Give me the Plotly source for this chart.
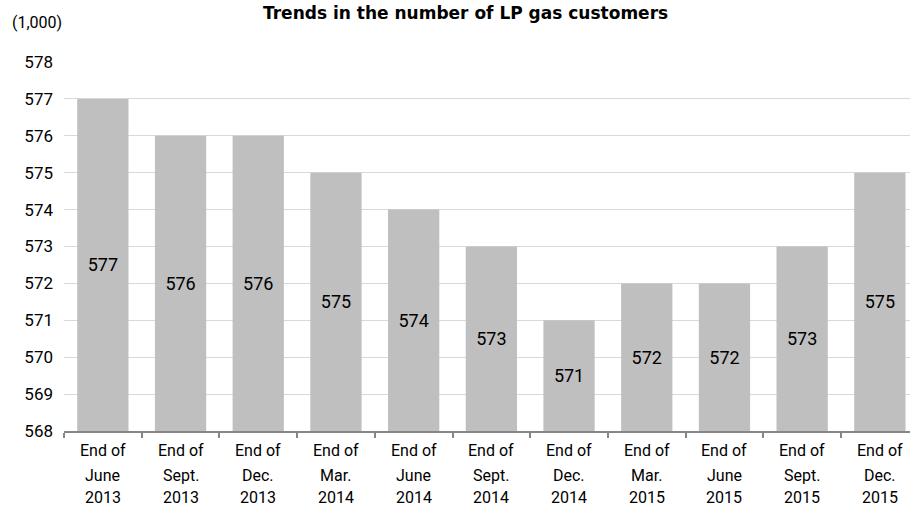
import plotly.graph_objects as go

categories = [
    "End of<br>June<br>2013", "End of<br>Sept.<br>2013", "End of<br>Dec.<br>2013",
    "End of<br>Mar.<br>2014", "End of<br>June<br>2014", "End of<br>Sept.<br>2014",
    "End of<br>Dec.<br>2014", "End of<br>Mar.<br>2015", "End of<br>June<br>2015",
    "End of<br>Sept.<br>2015", "End of<br>Dec.<br>2015",
]
values = [577, 576, 576, 575, 574, 573, 571, 572, 572, 573, 575]
y_ticks = list(range(568, 579))
title_text = "Trends in the number of LP gas customers"
unit_text = "(1,000)"
axis_base = 568

FONT = "Roboto, 'Noto Sans CJK JP', sans-serif"
W, H = 910, 507
L, R, T, B = 64, 0, 62, 76
plot_h = H - T - B
plot_w = W - L - R

xs = list(range(len(categories)))

fig = go.Figure()
fig.add_trace(go.Bar(
    x=xs, y=[v - axis_base for v in values], base=axis_base,
    marker=dict(color="#bfbfbf", line=dict(width=0)),
    text=[str(v) for v in values], textposition="inside",
    insidetextanchor="middle", textangle=0,
    textfont=dict(family=FONT, size=18, color="#000000"),
    width=0.66, hoverinfo="skip",
))

annotations = []
line_y = [450, 475, 497]
for i, cat in enumerate(categories):
    for j, part in enumerate(cat.split("<br>")):
        annotations.append(dict(
            x=i, xref="x", y=(T + plot_h - line_y[j]) / plot_h, yref="paper",
            text=part, showarrow=False, xanchor="center", yanchor="middle",
            font=dict(family=FONT, size=16, color="#000000"),
        ))
annotations.append(dict(
    x=(10 - L) / plot_w, xref="paper", y=(T + plot_h - 22) / plot_h, yref="paper",
    text=unit_text, showarrow=False, xanchor="left", yanchor="middle",
    font=dict(family=FONT, size=16, color="#000000"),
))
annotations.append(dict(
    x=(465 - L) / plot_w, xref="paper", y=(T + plot_h - 1) / plot_h, yref="paper",
    text="<b>" + title_text + "</b>", showarrow=False, xanchor="center", yanchor="top",
    font=dict(family="'DejaVu Sans', sans-serif", size=17, color="#000000"),
))

n = len(categories)
x_end = -0.5 + plot_w / 77.7

fig.update_layout(
    width=W, height=H, autosize=False,
    margin=dict(l=L, r=R, t=T, b=B, pad=0),
    paper_bgcolor="white", plot_bgcolor="white",
    showlegend=False, bargap=0.34,
    annotations=annotations,
    xaxis=dict(
        range=[-0.5, x_end], tickmode="array",
        tickvals=[i - 0.5 for i in range(n + 1)], ticktext=[""] * (n + 1),
        ticks="outside", ticklen=5, tickcolor="#868686", tickwidth=2,
        showline=True, linecolor="#868686", linewidth=2,
        showgrid=False, zeroline=False, fixedrange=True,
    ),
    yaxis=dict(
        range=[568, 578], tickmode="array",
        tickvals=y_ticks, ticktext=[str(t) for t in y_ticks],
        tickfont=dict(family=FONT, size=17, color="#000000"),
        showgrid=True, gridcolor="#d9d9d9", gridwidth=1,
        zeroline=False, showline=False, ticks="", ticklabelstandoff=10,
        fixedrange=True,
    ),
)

fig.write_html("out.html", config={"displayModeBar": False})
